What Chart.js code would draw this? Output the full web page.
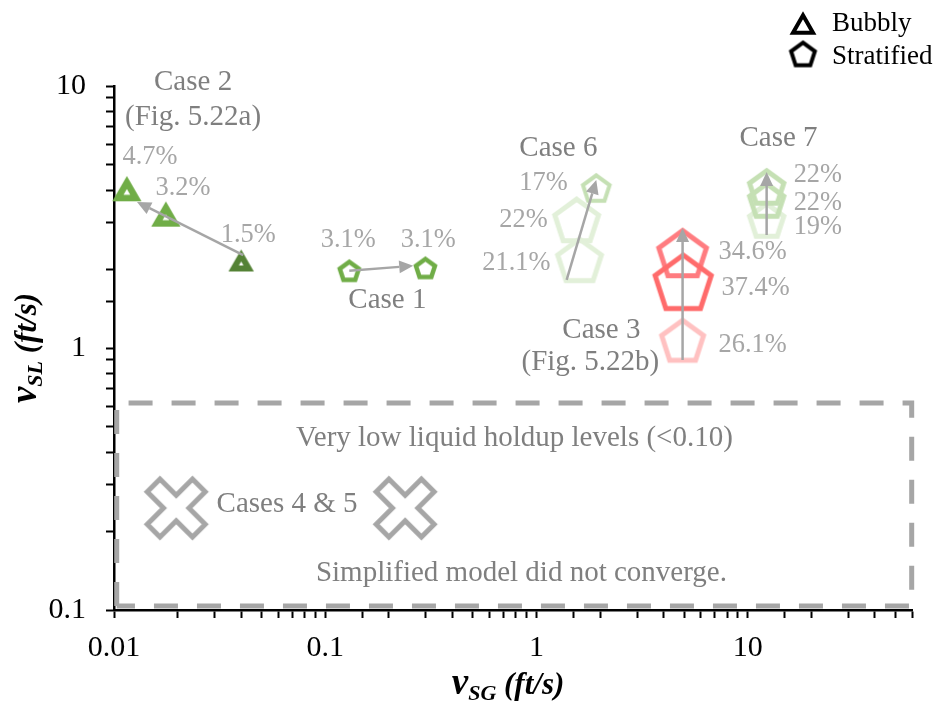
<!DOCTYPE html>
<html>
<head>
<meta charset="utf-8">
<script src="https://cdn.jsdelivr.net/npm/chart.js@4"></script>
<style>
html,body{margin:0;padding:0;background:#fff;}
#c{display:block;}
</style>
</head>
<body>
<canvas id="c" width="944" height="713"></canvas>
<script>
// ---------------- DATA ----------------
// Bubbly flow cases (triangles)
const bubblyX = [0.0115, 0.0176, 0.040];
const bubblyY = [4.0, 3.2, 2.13];
// Stratified flow cases (pentagons): Case 1 (x2), Case 6 (x3), Case 3 (x3), Case 7 (x3)
const stratX = [0.130, 0.298, 1.92, 1.55, 1.60, 4.92, 4.92, 4.95, 12.3, 12.3, 12.3];
const stratY = [1.97, 2.02, 4.08, 3.08, 2.17, 1.07, 2.30, 1.79, 3.08, 3.67, 4.12];
// Cases 4 & 5 (did not converge)
const failX = [0.0197, 0.239];
const failY = [0.245, 0.245];

// Percentage labels (liquid holdup error) and their positions (data coords)
const pctText = ['4.7%', '3.2%', '1.5%', '3.1%', '3.1%', '17%', '22%', '21.1%', '34.6%', '37.4%', '26.1%', '22%', '22%', '19%'];
const pctX    = [0.0148, 0.0212, 0.0432, 0.1285, 0.3077, 1.08, 0.868, 0.804, 10.56, 10.9, 10.56, 21.5, 21.5, 21.5];
const pctY    = [5.36, 4.08, 2.70, 2.58, 2.58, 4.26, 3.08, 2.11, 2.32, 1.69, 1.027, 4.57, 3.58, 2.90];

// Case labels
const caseText = ['Case 2', '(Fig. 5.22a)', 'Case 1', 'Case 6', 'Case 3', '(Fig. 5.22b)', 'Case 7'];
const caseX    = [0.02368, 0.02368, 0.197, 1.27, 2.03, 1.80, 14.0];
const caseY    = [10.36, 7.62, 1.52, 5.80, 1.17, 0.884, 6.33];

// Text inside the "very low holdup" region
const boxText = ['Very low liquid holdup levels (<0.10)', 'Simplified model did not converge.', 'Cases 4 & 5'];
const boxTextX = [0.787, 0.849, 0.066];
const boxTextY = [0.4533, 0.1384, 0.252];

// Dashed region bounds
const regionX = [0.0103, 59.8];
const regionY = [0.1035, 0.617];

// Arrows [from -> to]
const arrowFromX = [0.0409, 0.130, 1.39, 4.92, 12.3];
const arrowFromY = [2.26, 1.97, 1.82, 0.90, 2.70];
const arrowToX   = [0.01285, 0.261, 1.92, 4.92, 12.3];
const arrowToY   = [3.61, 2.06, 4.38, 2.87, 4.70];

// Axis limits
const xLimits = [0.01, 60];
const yLimits = [0.1, 10];

// ---------------- STYLES ----------------
const FONT = '"Liberation Serif", "Times New Roman", serif';
const GREEN = '#70AD47', DGREEN = '#548235', LGREEN = '#C5E0B4', VLGREEN = '#E2F0D9';
const bubblyStyle = [[18, GREEN, 6.5], [18, GREEN, 6.5], [15, DGREEN, 6]];
const stratStyle = [
  [10, GREEN, 4.5], [10, GREEN, 4.5],
  [14, LGREEN, 4], [23, VLGREEN, 5], [23, VLGREEN, 5],
  [22, '#FFC1C1', 5], [25, '#FF7C80', 5], [29.5, '#FF6B6B', 5],
  [18, VLGREEN, 5], [18, LGREEN, 5], [18, LGREEN, 5]
];

function triCanvas(s, color, lw) {
  const size = Math.ceil(s + lw * 3 + 6);
  const c = document.createElement('canvas');
  c.width = size; c.height = size;
  const g = c.getContext('2d');
  const h = s * Math.sqrt(3) / 2;
  const cx = size / 2, cy = size / 2;
  g.beginPath();
  g.moveTo(cx, cy - h / 2);
  g.lineTo(cx + s / 2, cy + h / 2);
  g.lineTo(cx - s / 2, cy + h / 2);
  g.closePath();
  g.lineJoin = 'miter';
  g.miterLimit = 10;
  g.lineWidth = lw;
  g.strokeStyle = color;
  g.stroke();
  return c;
}
function pentCanvas(r, color, lw) {
  const size = Math.ceil(2 * (r + lw) + 6);
  const c = document.createElement('canvas');
  c.width = size; c.height = size;
  const g = c.getContext('2d');
  const cx = size / 2, cy = size / 2 + 0.0955 * r;
  g.beginPath();
  for (let k = 0; k < 5; k++) {
    const a = -Math.PI / 2 + k * 2 * Math.PI / 5;
    const px = cx + r * Math.cos(a), py = cy + r * Math.sin(a);
    if (k === 0) g.moveTo(px, py); else g.lineTo(px, py);
  }
  g.closePath();
  g.lineJoin = 'miter';
  g.lineWidth = lw;
  g.strokeStyle = color;
  g.stroke();
  return c;
}
function xCanvas(L, a, color, lw) {
  const ext = (L + a) / Math.SQRT2;
  const size = Math.ceil(2 * ext + lw * 2 + 6);
  const c = document.createElement('canvas');
  c.width = size; c.height = size;
  const g = c.getContext('2d');
  g.translate(size / 2, size / 2);
  g.rotate(Math.PI / 4);
  const pts = [[a, -L], [a, -a], [L, -a], [L, a], [a, a], [a, L], [-a, L], [-a, a], [-L, a], [-L, -a], [-a, -a], [-a, -L]];
  g.beginPath();
  pts.forEach((p, i) => i ? g.lineTo(p[0], p[1]) : g.moveTo(p[0], p[1]));
  g.closePath();
  g.fillStyle = '#fff';
  g.fill();
  g.lineJoin = 'miter';
  g.lineWidth = lw;
  g.strokeStyle = color;
  g.stroke();
  return c;
}

const bubblyPts = bubblyStyle.map(s => triCanvas(s[0], s[1], s[2]));
const stratPts = stratStyle.map(s => pentCanvas(s[0], s[1], s[2]));
const failPts = failX.map(() => xCanvas(32, 9, '#A6A6A6', 5));

function fmtLog(v) {
  const l = Math.log10(v);
  const e = Math.round(l);
  if (Math.abs(l - e) > 1e-6) return '';
  return e < 0 ? Math.pow(10, e).toFixed(-e) : String(Math.pow(10, e));
}

// ---------------- ANNOTATION PLUGIN ----------------
function drawArrow(ctx, x1, y1, x2, y2) {
  const ang = Math.atan2(y2 - y1, x2 - x1);
  const hl = 14, hw = 6.5;
  const bx = x2 - hl * Math.cos(ang), by = y2 - hl * Math.sin(ang);
  ctx.beginPath();
  ctx.moveTo(x1, y1);
  ctx.lineTo(bx, by);
  ctx.stroke();
  ctx.beginPath();
  ctx.moveTo(x2, y2);
  ctx.lineTo(bx + hw * Math.sin(ang), by - hw * Math.cos(ang));
  ctx.lineTo(bx - hw * Math.sin(ang), by + hw * Math.cos(ang));
  ctx.closePath();
  ctx.fill();
}
function drawParts(ctx, parts, cx, baseY) {
  let total = 0;
  parts.forEach(p => { ctx.font = p.f; p.w = ctx.measureText(p.t).width; total += p.w; });
  let x = cx - total / 2;
  parts.forEach(p => { ctx.font = p.f; ctx.fillText(p.t, x, baseY + p.dy); x += p.w; });
}

const annot = {
  id: 'annot',
  beforeDatasetsDraw(chart) {
    const { ctx, scales: { x, y } } = chart;
    ctx.save();
    ctx.strokeStyle = '#A6A6A6';
    ctx.lineWidth = 5;
    ctx.setLineDash([24, 19]);
    const l = x.getPixelForValue(regionX[0]), r = x.getPixelForValue(regionX[1]);
    const t = y.getPixelForValue(regionY[1]), b = y.getPixelForValue(regionY[0]);
    ctx.beginPath();
    ctx.moveTo(l, b); ctx.lineTo(l, t); ctx.lineTo(r, t); ctx.lineTo(r, b); ctx.lineTo(l, b);
    ctx.stroke();
    ctx.restore();
  },
  afterDatasetsDraw(chart) {
    const { ctx, scales: { x, y } } = chart;
    ctx.save();
    // arrows
    ctx.strokeStyle = '#A6A6A6';
    ctx.fillStyle = '#A6A6A6';
    ctx.lineWidth = 2.5;
    for (let i = 0; i < arrowFromX.length; i++) {
      drawArrow(ctx, x.getPixelForValue(arrowFromX[i]), y.getPixelForValue(arrowFromY[i]),
        x.getPixelForValue(arrowToX[i]), y.getPixelForValue(arrowToY[i]));
    }
    ctx.textAlign = 'center';
    ctx.textBaseline = 'middle';
    // percentages
    ctx.fillStyle = '#A6A6A6';
    ctx.font = '26.4px ' + FONT;
    pctText.forEach((t, i) => ctx.fillText(t, x.getPixelForValue(pctX[i]), y.getPixelForValue(pctY[i])));
    // case labels
    ctx.fillStyle = '#7F7F7F';
    ctx.font = '29px ' + FONT;
    caseText.forEach((t, i) => ctx.fillText(t, x.getPixelForValue(caseX[i]), y.getPixelForValue(caseY[i])));
    boxText.forEach((t, i) => ctx.fillText(t, x.getPixelForValue(boxTextX[i]), y.getPixelForValue(boxTextY[i])));
    ctx.restore();
  },
  afterDraw(chart) {
    const { ctx } = chart;
    ctx.save();
    ctx.fillStyle = '#000';
    ctx.textAlign = 'left';
    ctx.textBaseline = 'alphabetic';
    const vf = 'bold italic 37px ' + FONT, big = 'bold italic 31px ' + FONT, sub = 'bold italic 22px ' + FONT;
    // x title
    drawParts(ctx, [{ t: 'v', f: vf, dy: 0 }, { t: 'SG', f: sub, dy: 6 }, { t: ' (ft/s)', f: big, dy: 0 }], 508, 694);
    // y title
    ctx.translate(36, 348);
    ctx.rotate(-Math.PI / 2);
    drawParts(ctx, [{ t: 'v', f: vf, dy: 0 }, { t: 'SL', f: sub, dy: 6 }, { t: ' (ft/s)', f: big, dy: 0 }], 0, 0);
    ctx.restore();
    // legend
    ctx.save();
    const tri = triCanvas(20, '#000', 4), pen = pentCanvas(12.5, '#000', 4);
    ctx.drawImage(tri, 803 - tri.width / 2, 24 - tri.height / 2);
    ctx.drawImage(pen, 803 - pen.width / 2, 54 - pen.height / 2);
    ctx.fillStyle = '#000';
    ctx.font = '27px ' + FONT;
    ctx.textAlign = 'left';
    ctx.textBaseline = 'alphabetic';
    ctx.fillText('Bubbly', 832, 31);
    ctx.fillText('Stratified', 832, 64);
    ctx.restore();
  }
};

// ---------------- CHART ----------------
const axisCommon = {
  type: 'logarithmic',
  border: { display: true, color: '#000', width: 2.5 },
  grid: { drawOnChartArea: false, drawTicks: true, tickLength: 8, tickColor: '#000', tickWidth: 2 },
  title: { display: false }
};

new Chart(document.getElementById('c'), {
  type: 'scatter',
  data: {
    datasets: [
      { label: 'Bubbly', data: bubblyX.map((v, i) => ({ x: v, y: bubblyY[i] })), pointStyle: bubblyPts, pointRadius: 12, clip: false },
      { label: 'Stratified', data: stratX.map((v, i) => ({ x: v, y: stratY[i] })), pointStyle: stratPts, pointRadius: 12, clip: false },
      { label: 'Did not converge', data: failX.map((v, i) => ({ x: v, y: failY[i] })), pointStyle: failPts, pointRadius: 12, clip: false }
    ]
  },
  options: {
    responsive: false,
    animation: false,
    events: [],
    layout: { padding: { left: 0, right: 32, top: 86, bottom: 0 } },
    plugins: { legend: { display: false }, tooltip: { enabled: false } },
    scales: {
      x: Object.assign({}, axisCommon, {
        position: 'bottom',
        min: xLimits[0], max: xLimits[1],
        afterFit(s) { s.height = 103; },
        ticks: { autoSkip: false, maxRotation: 0, minRotation: 0, padding: 12, color: '#000',
          font: { family: FONT, size: 30 }, callback: (v) => fmtLog(v) }
      }),
      y: Object.assign({}, axisCommon, {
        position: 'left',
        min: yLimits[0], max: yLimits[1],
        afterFit(s) { s.width = 114; },
        ticks: { autoSkip: false, padding: 20, color: '#000',
          font: { family: FONT, size: 30 }, callback: (v) => fmtLog(v) }
      })
    }
  },
  plugins: [annot]
});
</script>
</body>
</html>
